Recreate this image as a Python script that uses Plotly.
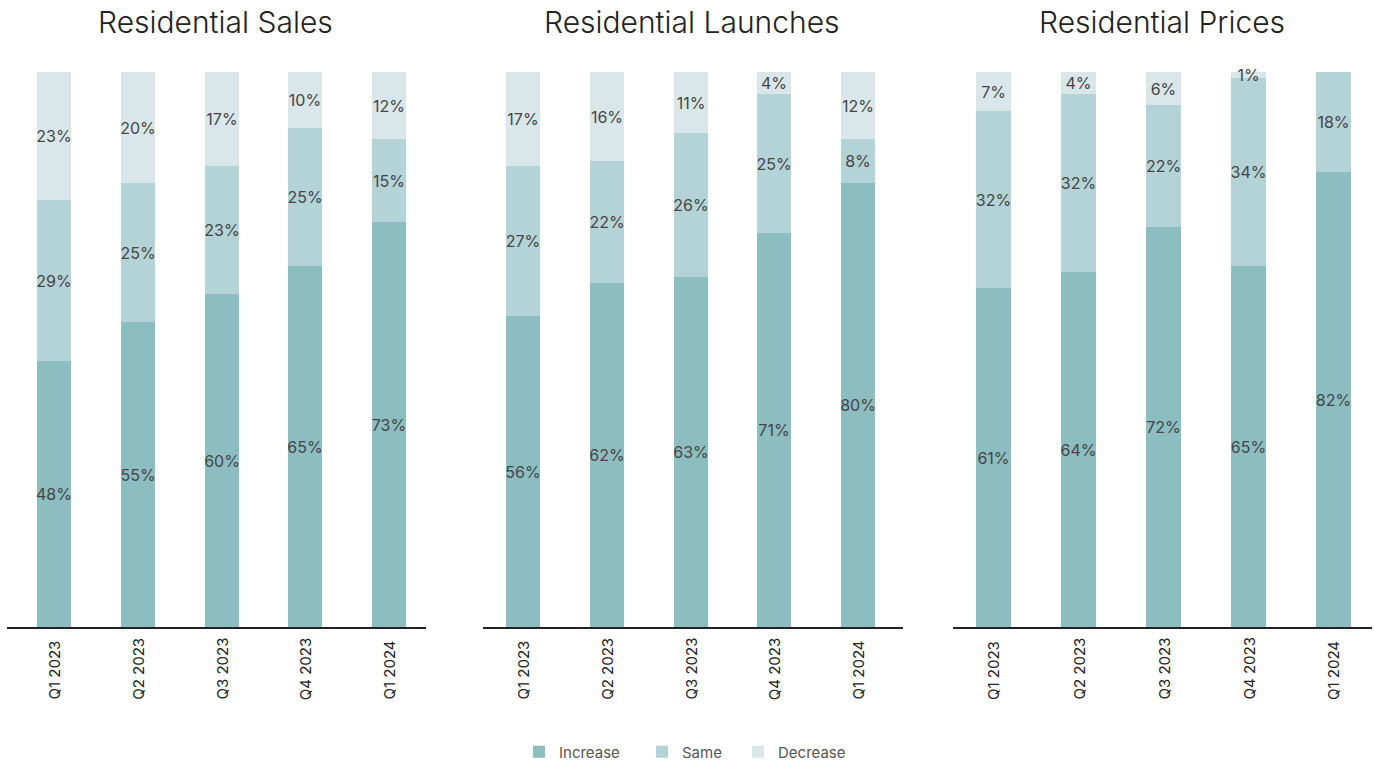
import plotly.graph_objects as go

quarters = ["Q1 2023", "Q2 2023", "Q3 2023", "Q4 2023", "Q1 2024"]
series_names = ["Increase", "Same", "Decrease"]
panel_titles = ["Residential Sales", "Residential Launches", "Residential Prices"]

sales_increase = [48, 55, 60, 65, 73]
sales_same = [29, 25, 23, 25, 15]
sales_decrease = [23, 20, 17, 10, 12]

launches_increase = [56, 62, 63, 71, 80]
launches_same = [27, 22, 26, 25, 8]
launches_decrease = [17, 16, 11, 4, 12]

prices_increase = [61, 64, 72, 65, 82]
prices_same = [32, 32, 22, 34, 18]
prices_decrease = [7, 4, 6, 1, 0]

panels = [
    [sales_increase, sales_same, sales_decrease],
    [launches_increase, launches_same, launches_decrease],
    [prices_increase, prices_same, prices_decrease],
]

colors = ["#8bbdc1", "#b3d3d6", "#d9e7eb"]
W, H = 1374, 763

# pixel layout of each panel: axis line extent and first/last bar centres
axis_px = [(7, 426), (483, 903), (953, 1372)]
centre_px = [(54, 389), (523, 858), (993.5, 1333.5)]
bar_px = [34, 34, 35]
title_px = [215, 692, 1162]
y_bottom_px, y_top_px = 627, 72

# one legend per series so each entry sits at its own x position
legend_ids = ["legend", "legend2", "legend3"]
legend_text_px = [559, 682, 778]

fig = go.Figure()
font_family = "Inter, 'Noto Sans', sans-serif"
title_family = "'Inter Light', Inter, 'Noto Sans', sans-serif"

for p, series in enumerate(panels):
    xa = "x" if p == 0 else f"x{p + 1}"
    ya = "y" if p == 0 else f"y{p + 1}"
    c0, c4 = centre_px[p]
    unit = (c4 - c0) / 4
    for s, vals in enumerate(series):
        fig.add_trace(go.Bar(
            x=quarters, y=vals, name=series_names[s],
            marker=dict(color=colors[s], line=dict(width=0)),
            width=bar_px[p] / unit,
            text=[f"{v}%" if v > 0 else "" for v in vals],
            textposition="inside", insidetextanchor="middle",
            textangle=0, constraintext="none", cliponaxis=False,
            textfont=dict(family=font_family, size=16, color="#454545"),
            showlegend=(p == 0), legend=legend_ids[s],
            xaxis=xa, yaxis=ya, hoverinfo="skip",
        ))
    a0, a1 = axis_px[p]
    xr = [(a0 - c0) / unit, (a1 - c0) / unit]
    axis_key = "xaxis" if p == 0 else f"xaxis{p + 1}"
    yaxis_key = "yaxis" if p == 0 else f"yaxis{p + 1}"
    fig.update_layout({
        axis_key: dict(
            domain=[a0 / W, a1 / W], range=xr, type="category",
            showticklabels=False, ticks="", showgrid=False, zeroline=False,
            showline=True, linecolor="#222222", linewidth=1.5,
            anchor=ya, fixedrange=True,
        ),
        yaxis_key: dict(
            domain=[(H - y_bottom_px) / H, (H - y_top_px) / H], range=[0, 100],
            visible=False, anchor=xa, fixedrange=True,
        ),
    })
    # quarter labels, rotated and bottom-aligned under each bar
    for q in quarters:
        fig.add_annotation(
            x=q, xref=xa, y=(H - 702) / H, yref="paper",
            text=q, textangle=-90, showarrow=False,
            xanchor="center", yanchor="bottom",
            font=dict(family=font_family, size=15, color="#222222"),
        )
    fig.add_annotation(
        x=title_px[p] / W, xref="paper",
        y=(H - 22) / H, yref="paper", text=panel_titles[p], showarrow=False,
        xanchor="center", yanchor="middle",
        font=dict(family=title_family, size=30, color="#222222", weight=300),
    )

legend_style = dict(
    orientation="h", y=(H - 752) / H, xanchor="left", yanchor="middle",
    font=dict(family=font_family, size=15, color="#555555"),
    bgcolor="rgba(0,0,0,0)", borderwidth=0,
)
legends = {}
for lid, tx in zip(legend_ids, legend_text_px):
    legends[lid] = dict(legend_style, x=(tx - 40) / W)

fig.update_layout(
    width=W, height=H,
    barmode="stack", bargap=0,
    margin=dict(l=0, r=0, t=0, b=0, autoexpand=False),
    paper_bgcolor="white", plot_bgcolor="white",
    **legends,
)

fig.write_html("out.html")
